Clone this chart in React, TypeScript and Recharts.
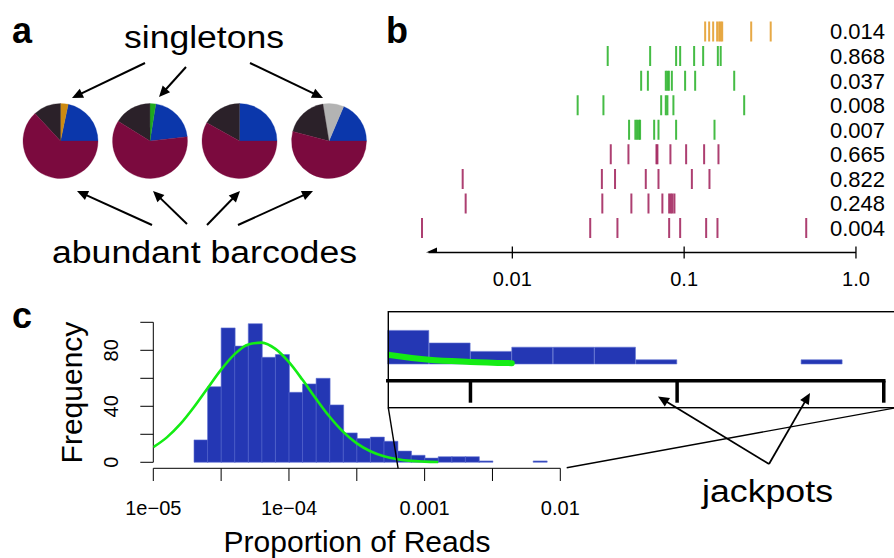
import React from 'react';
import {
  PieChart, Pie, Cell, ScatterChart, Scatter, XAxis, YAxis, ComposedChart, Bar, Line, ReferenceLine,
} from 'recharts';

const FONT = '"Liberation Sans", Arial, Helvetica, sans-serif';

// ---------------- panel a : barcode composition of four samples ----------------
const sliceColors: Record<string, string> = {
  blue: '#0b37ab', maroon: '#7b0a3e', dark: '#2b2129', orange: '#cc8a12', green: '#1fa81f', gray: '#b3b3b3',
};
const pieSample1 = [
  { key: 'blue', value: 21.7 }, { key: 'orange', value: 3.3 }, { key: 'dark', value: 11.9 }, { key: 'maroon', value: 63.1 },
];
const pieSample2 = [
  { key: 'blue', value: 20.7 }, { key: 'green', value: 2.5 }, { key: 'dark', value: 16.1 }, { key: 'maroon', value: 60.7 },
];
const pieSample3 = [
  { key: 'blue', value: 25.0 }, { key: 'dark', value: 16.9 }, { key: 'maroon', value: 58.1 },
];
const pieSample4 = [
  { key: 'blue', value: 18.6 }, { key: 'gray', value: 9.0 }, { key: 'dark', value: 18.3 }, { key: 'maroon', value: 54.1 },
];

// ---------------- panel b : rug rows ----------------
const rowLabels = ['0.014', '0.868', '0.037', '0.008', '0.007', '0.665', '0.822', '0.248', '0.004'];
const rowGroups = ['orange', 'green', 'green', 'green', 'green', 'maroon', 'maroon', 'maroon', 'maroon'];
const row1 = [0.1325, 0.1398, 0.1475, 0.1556, 0.1599, 0.1632, 0.1665, 0.2456, 0.319];
const row2 = [0.0359, 0.0634, 0.0898, 0.0948, 0.1143, 0.129, 0.1571, 0.1632];
const row3 = [0.0562, 0.0615, 0.0782, 0.0799, 0.0815, 0.0848, 0.1013, 0.1159, 0.1956];
const row4 = [0.024, 0.0339, 0.0735, 0.0782, 0.0799, 0.0866, 0.2236];
const row5 = [0.0478, 0.052, 0.0532, 0.0545, 0.0554, 0.0669, 0.0709, 0.0898, 0.1502];
const row6 = [0.0374, 0.0474, 0.069, 0.0699, 0.0832, 0.1027, 0.1307, 0.1584];
const row7 = [0.00514, 0.0332, 0.0396, 0.0598, 0.0709, 0.1109, 0.1404];
const row8 = [0.00535, 0.0334, 0.0493, 0.062, 0.0747, 0.0818, 0.0837, 0.0855, 0.0878];
const row9 = [0.00298, 0.0284, 0.0409, 0.0818, 0.0948, 0.1343, 0.1563, 0.5135];
const bTicks = [0.01, 0.1, 1];
const bTickLabels = ['0.01', '0.1', '1.0'];
const bArrowTip = 0.003143;

// ---------------- panel c : histogram of log10 proportion of reads ----------------
const binStarts = [-5.0, -4.9, -4.8, -4.7, -4.6, -4.5, -4.4, -4.3, -4.2, -4.1, -4.0, -3.9, -3.8, -3.7, -3.6, -3.5,
  -3.4, -3.3, -3.2, -3.1, -3.0, -2.9, -2.8, -2.7, -2.6, -2.5, -2.4, -2.3, -2.2, -2.1, -2.0];
const binCounts = [0, 0, 0, 16, 54, 96, 83, 99, 75, 77, 50, 56, 60, 41, 21, 17,
  18, 15, 8, 5, 3, 4, 4, 4, 1, 0, 0, 0, 1, 0, 0];
const fitX = [-5.0, -4.9, -4.8, -4.7, -4.6, -4.5, -4.4, -4.3, -4.2, -4.1, -4.0, -3.9, -3.8, -3.7, -3.6, -3.5,
  -3.4, -3.3, -3.2, -3.1, -3.0, -2.9];
const fitY = [10.8, 17.8, 27.4, 39.5, 52.9, 66.2, 77.3, 84.2, 85.5, 81.0, 71.5, 58.9, 45.3, 32.5, 21.7, 13.5,
  7.9, 4.3, 2.2, 1.0, 0.5, 0.2];
const cTicks = [-5, -4.5, -4, -3.5, -3, -2.5, -2];
const cTickLabels = ['1e\u221205', '', '1e\u221204', '', '0.001', '', '0.01'];
const freqTicks = [0, 20, 40, 60, 80, 100];
const freqTickLabels = ['0', '', '40', '', '80', ''];
const insetTicks = [-3, -2.5, -2];

const rugColors: Record<string, string> = { orange: '#e49d2c', green: '#2bb32b', maroon: '#a2245d' };
const HIST_FILL = '#2437b4';
const HIST_EDGE = '#5f70d2';
const FIT_GREEN = '#14ec14';

const rows = [row1, row2, row3, row4, row5, row6, row7, row8, row9];
const rugData = (g: string) =>
  rows.flatMap((r, i) => (rowGroups[i] === g ? r.map((v) => ({ x: v, y: i + 1 })) : []));

const histData = binStarts.map((b, i) => ({ bin: b.toFixed(1), count: binCounts[i] }));
const mainHist = histData.slice(0, 30);
const insetHist = histData.slice(18);
const fitData = fitX.map((x, i) => ({ lx: x, fit: fitY[i] }));
const insetFit = fitData.filter((d) => d.lx >= -3.2);

const makeRug = (color: string) => (p: any) => (
  <line x1={p.cx} x2={p.cx} y1={p.cy - 10} y2={p.cy + 10} stroke={color} strokeWidth={2} strokeOpacity={0.88} />
);
const ArrowHeadLeft = (p: any) => (
  <polygon points={`${p.cx},${p.cy} ${p.cx + 11},${p.cy - 5} ${p.cx + 11},${p.cy + 5}`} fill="#000" />
);

const BTick = (p: any) => {
  const idx = bTicks.indexOf(p.payload.value);
  return (
    <g>
      <line x1={p.x} x2={p.x} y1={p.y - 6} y2={p.y + 6} stroke="#000" strokeWidth={1.3} />
      <text x={p.x} y={p.y + 33} textAnchor="middle" fontSize={20} fontFamily={FONT} fill="#000">
        {bTickLabels[idx]}
      </text>
    </g>
  );
};
const RowLabel = (p: any) => (
  <text x={p.x - 26.7} y={p.y} dy="0.36em" fontSize={22} fontFamily={FONT} fill="#000">
    {rowLabels[p.payload.value - 1]}
  </text>
);
const CXTick = (p: any) => {
  const idx = cTicks.indexOf(p.payload.value);
  return (
    <text x={p.x} y={p.y + 34} textAnchor="middle" fontSize={20} fontFamily={FONT} fill="#000">
      {cTickLabels[idx]}
    </text>
  );
};
const CYTick = (p: any) => {
  const idx = freqTicks.indexOf(p.payload.value);
  const bx = p.x - 21.8;
  return (
    <text x={bx} y={p.y} transform={`rotate(-90 ${bx} ${p.y})`} textAnchor="middle" fontSize={20}
      fontFamily={FONT} fill="#000">
      {freqTickLabels[idx]}
    </text>
  );
};
const InsetTick = (p: any) => (
  <line x1={p.x} x2={p.x} y1={p.y} y2={p.y + 22} stroke="#000" strokeWidth={3.5} />
);

const Arrow = ({ x1, y1, x2, y2, w = 2 }: { x1: number; y1: number; x2: number; y2: number; w?: number }) => {
  const dx = x2 - x1, dy = y2 - y1;
  const len = Math.sqrt(dx * dx + dy * dy);
  const ux = dx / len, uy = dy / len;
  const hl = 11, hw = 5;
  const bx = x2 - ux * hl, by = y2 - uy * hl;
  return (
    <g>
      <line x1={x1} y1={y1} x2={x2 - ux * hl * 0.7} y2={y2 - uy * hl * 0.7} stroke="#000" strokeWidth={w} />
      <polygon points={`${x2},${y2} ${bx - uy * hw},${by + ux * hw} ${bx + uy * hw},${by - ux * hw}`} fill="#000" />
    </g>
  );
};

const pieLayout = [
  { data: pieSample1, cx: 60.5, start: 0 },
  { data: pieSample2, cx: 150, start: 6.6 },
  { data: pieSample3, cx: 239.5, start: 0 },
  { data: pieSample4, cx: 329, start: 0 },
];

export default function App() {
  return (
    <div style={{ position: 'absolute', left: 0, top: 0, width: 894, height: 558, overflow: 'hidden', background: '#fff', fontFamily: FONT }}>
      {/* panel a */}
      <div style={{ position: 'absolute', left: 0, top: 0 }}>
        <PieChart width={380} height={290} margin={{ top: 0, right: 0, bottom: 0, left: 0 }}>
          {pieLayout.map((p, i) => (
            <Pie key={i} data={p.data} dataKey="value" nameKey="key" cx={p.cx} cy={141} innerRadius={0}
              outerRadius={37.5} startAngle={p.start} endAngle={p.start + 360} stroke="none"
              isAnimationActive={false} label={false} labelLine={false}>
              {p.data.map((d, j) => (
                <Cell key={j} fill={sliceColors[d.key]} stroke={sliceColors[d.key]} strokeWidth={0.3} />
              ))}
            </Pie>
          ))}
        </PieChart>
      </div>

      {/* panel b */}
      <div style={{ position: 'absolute', left: 380, top: 0 }}>
        <ScatterChart width={514} height={300} margin={{ top: 7, right: 36.3, bottom: 7.4, left: 28.9 }}>
          <XAxis type="number" dataKey="x" scale="log" domain={[0.0025, 1.01]} allowDataOverflow ticks={bTicks}
            interval={0} tick={(p: any) => <BTick {...p} />} tickLine={false} axisLine={false} tickSize={0}
            tickMargin={0} height={40} />
          <YAxis type="number" dataKey="y" orientation="right" domain={[0, 10]} reversed allowDataOverflow
            ticks={[1, 2, 3, 4, 5, 6, 7, 8, 9]} interval={0} tick={(p: any) => <RowLabel {...p} />}
            tickLine={false} axisLine={false} tickSize={0} tickMargin={0} width={1} />
          <ReferenceLine segment={[{ x: 0.00325, y: 10 }, { x: 1, y: 10 }]} stroke="#000" strokeWidth={1.5}
            ifOverflow="visible" />
          <Scatter data={[{ x: bArrowTip, y: 10 }]} shape={ArrowHeadLeft} isAnimationActive={false} />
          <Scatter data={rugData('maroon')} shape={makeRug(rugColors.maroon)} isAnimationActive={false} />
          <Scatter data={rugData('green')} shape={makeRug(rugColors.green)} isAnimationActive={false} />
          <Scatter data={rugData('orange')} shape={makeRug(rugColors.orange)} isAnimationActive={false} />
        </ScatterChart>
      </div>

      {/* panel c main histogram */}
      <div style={{ position: 'absolute', left: 0, top: 290 }}>
        <ComposedChart width={600} height={268} data={mainHist} barCategoryGap={0} barGap={0}
          margin={{ top: 32.3, right: 39.7, bottom: 9.7, left: 93.3 }}>
          <XAxis xAxisId="cat" dataKey="bin" type="category" hide height={0} />
          <XAxis xAxisId="num" dataKey="lx" type="number" domain={[-5, -2]} allowDataOverflow ticks={cTicks}
            interval={0} tickSize={12.7} tickMargin={0} stroke="#000" tickLine={{ stroke: '#000' }}
            axisLine={{ stroke: '#000' }} tick={(p: any) => <CXTick {...p} />} height={80}
            label={{
              content: () => (
                <text x={357} y={261.5} textAnchor="middle" fontSize={30} fontFamily={FONT} fill="#000">
                  Proportion of Reads
                </text>
              ),
            }} />
          <YAxis type="number" domain={[-4.29, 100]} allowDataOverflow ticks={freqTicks} interval={0}
            tickSize={13} tickMargin={0} stroke="#000" axisLine={false} tickLine={{ stroke: '#000' }}
            tick={(p: any) => <CYTick {...p} />} width={60}
            label={{
              content: () => (
                <text x={82} y={102.5} transform="rotate(-90 82 102.5)" textAnchor="middle" fontSize={30}
                  fontFamily={FONT} fill="#000">
                  Frequency
                </text>
              ),
            }} />
          <ReferenceLine xAxisId="num" segment={[{ x: -5, y: 0 }, { x: -5, y: 100 }]} stroke="#000"
            strokeWidth={1} ifOverflow="visible" />
          <Bar xAxisId="cat" dataKey="count" fill={HIST_FILL} stroke={HIST_EDGE} strokeWidth={0.6}
            isAnimationActive={false} />
          <Line xAxisId="num" data={fitData} dataKey="fit" type="monotone" stroke={FIT_GREEN} strokeWidth={2.6}
            dot={false} activeDot={false} isAnimationActive={false} />
        </ComposedChart>
      </div>

      {/* panel c inset (zoom on the tail) */}
      <div style={{ position: 'absolute', left: 380, top: 300 }}>
        <ComposedChart width={560} height={112} data={insetHist} barCategoryGap={0} barGap={0}
          margin={{ top: 11.7, right: 14.9, bottom: 1.3, left: 7.8 }}>
          <XAxis xAxisId="cat" dataKey="bin" type="category" hide height={0} />
          <XAxis xAxisId="num" dataKey="lx" type="number" domain={[-3.2, -1.9]} allowDataOverflow
            ticks={insetTicks} interval={0} tickSize={0} tickMargin={0} axisLine={false} tickLine={false}
            tick={(p: any) => <InsetTick {...p} />} height={30} />
          <YAxis type="number" domain={[-3.98, 12.45]} allowDataOverflow hide />
          <ReferenceLine xAxisId="num" segment={[{ x: -3.2, y: -3.98 }, { x: -2, y: -3.98 }]} stroke="#000"
            strokeWidth={3.5} strokeLinecap="square" ifOverflow="visible" />
          <Bar xAxisId="cat" dataKey="count" fill={HIST_FILL} stroke={HIST_EDGE} strokeWidth={0.6}
            isAnimationActive={false} />
          <Line xAxisId="num" data={insetFit} dataKey="fit" type="monotone" stroke={FIT_GREEN} strokeWidth={6}
            strokeLinecap="round" dot={false} activeDot={false} isAnimationActive={false} />
        </ComposedChart>
      </div>

      {/* annotations */}
      <svg width={894} height={558} style={{ position: 'absolute', left: 0, top: 0, pointerEvents: 'none' }}>
        <g fontFamily={FONT} fill="#000">
          <text x={12} y={43} fontSize={36} fontWeight="bold">a</text>
          <text x={386} y={43} fontSize={36} fontWeight="bold">b</text>
          <text x={12} y={328} fontSize={36} fontWeight="bold">c</text>
          <text x={204} y={48} fontSize={31} textAnchor="middle" textLength={160} lengthAdjust="spacingAndGlyphs">singletons</text>
          <text x={204.5} y={263} fontSize={31} textAnchor="middle" textLength={305} lengthAdjust="spacingAndGlyphs">abundant barcodes</text>
          <text x={767.5} y={502} fontSize={31} textAnchor="middle" textLength={131} lengthAdjust="spacingAndGlyphs">jackpots</text>
        </g>
        <Arrow x1={145} y1={63} x2={72} y2={98} />
        <Arrow x1={186} y1={67} x2={159} y2={97} />
        <Arrow x1={250} y1={63} x2={323} y2={98} />
        <Arrow x1={152} y1={225} x2={77} y2={191} />
        <Arrow x1={187} y1={224} x2={153} y2={191} />
        <Arrow x1={207} y1={225} x2={240} y2={191} />
        <Arrow x1={238} y1={225} x2={313} y2={191} />
        <Arrow x1={769} y1={464} x2={658} y2={396.5} w={1.8} />
        <Arrow x1={769} y1={464} x2={810} y2={393} w={1.8} />
        <rect x={388.3} y={311.7} width={508} height={96} fill="none" stroke="#000" strokeWidth={1.4} />
        <line x1={388.3} y1={407.7} x2={398.1} y2={468.3} stroke="#000" strokeWidth={1.4} />
        <line x1={566.7} y1={467.7} x2={896.4} y2={407.7} stroke="#000" strokeWidth={1.4} />
      </svg>
    </div>
  );
}
